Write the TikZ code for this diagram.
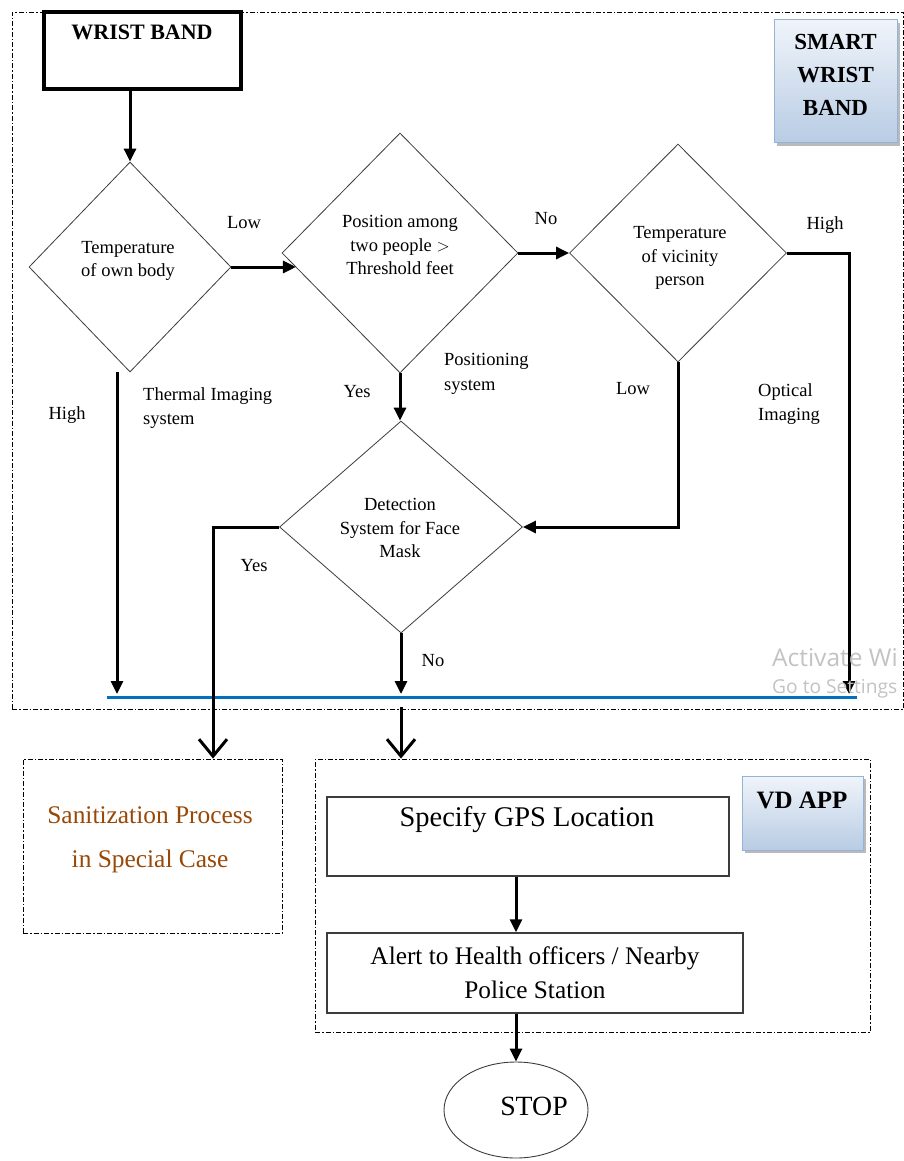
\documentclass[tikz,border=0pt]{standalone}
\usepackage{fontspec}
\setmainfont{Liberation Serif}
\newfontfamily\wmfont{Open Sans}
\usetikzlibrary{shapes.geometric,arrows.meta,shadows}
\definecolor{busblue}{RGB}{0,112,192}
\definecolor{sanbrown}{RGB}{152,72,7}
\definecolor{boxblue}{RGB}{184,204,228}
\definecolor{boxtop}{RGB}{240,244,250}
\definecolor{boxedge}{RGB}{149,179,215}
\definecolor{wmgray}{RGB}{195,195,195}
\definecolor{dgray}{RGB}{60,60,60}
\tikzset{
  dec/.style={diamond, draw=dgray, line width=0.8pt, inner sep=0pt},
  dtxt/.style={align=center, inner sep=0pt, font=\fontsize{18.5}{23.5}\selectfont},
  lbl/.style={align=left, inner sep=0pt, font=\fontsize{18.5}{24.5}\selectfont},
  conn/.style={line width=3pt, -{Triangle[length=13pt,width=12pt]}},
  openarr/.style={line width=3pt, -{Straight Barb[length=17pt,width=28pt]}},
  dashdot/.style={draw=black, line width=0.9pt, dash pattern=on 5pt off 2pt on 1.5pt off 2pt},
  procbox/.style={draw=dgray, line width=1.5pt, inner sep=0pt},
  bluebox/.style={draw=boxedge, line width=1pt, top color=boxtop, bottom color=boxblue,
    inner sep=0pt, drop shadow={shadow xshift=3pt, shadow yshift=-3pt, fill=black!45, opacity=0.6}},
}
\begin{document}
\begin{tikzpicture}[x=1pt,y=-1pt]
\useasboundingbox[fill=white] (0,0) rectangle (904,1161);

% outer region
\node[dashdot, minimum width=891pt, minimum height=697pt, inner sep=0pt] (outer) at (457.5,360.5) {};

% wrist band
\node[draw, line width=3.5pt, minimum width=197pt, minimum height=77pt, inner sep=0pt] (wb) at (142.5,50.5) {};
\node[inner sep=0pt, font=\fontsize{22}{26}\selectfont\bfseries] (wbt) at (142,32) {WRIST BAND};

% smart wrist band tag
\node[bluebox, minimum width=123pt, minimum height=123pt] (smart) at (835.5,81.5) {};
\node[align=center, inner sep=0pt, font=\fontsize{23}{33}\selectfont\bfseries] (smartt) at (835.5,75) {SMART\\WRIST\\BAND};

% decisions
\node[dec, minimum width=202pt, minimum height=210pt] (d1) at (130,267) {};
\node[dtxt] (d1t) at (128,261) {Temperature\\of own body};
\node[dec, minimum width=236pt, minimum height=240pt] (d2) at (400,253) {};
\node[dtxt] (d2t) at (400,245) {Position among\\two people $>$\\Threshold feet};
\node[dec, minimum width=217pt, minimum height=218pt] (d3) at (678,253) {};
\node[dtxt] (d3t) at (680,258) {Temperature\\of vicinity\\person};
\node[dec, minimum width=243pt, minimum height=212pt] (d4) at (401,527) {};
\node[dtxt] (d4t) at (400,528) {Detection\\System for Face\\Mask};

% coordinates
\coordinate (t1) at (117,694);
\coordinate (t3) at (849,694);
\coordinate (busL) at (107,697);
\coordinate (busR) at (857,697);
\coordinate (sanin) at (213,0);
\coordinate (s2) at (401,707);

% bus line
\draw[busblue, line width=3pt] (busL) -- (busR);

% lower boxes
\node[dashdot, minimum width=259pt, minimum height=174pt, inner sep=0pt] (san) at (152.5,846) {};
\node[align=center, inner sep=0pt, text=sanbrown, font=\fontsize{25.4}{44}\selectfont] (sant) at (150,840) {Sanitization Process\\in Special Case};
\node[dashdot, minimum width=555pt, minimum height=273pt, inner sep=0pt] (vd) at (592.5,895.5) {};
\node[bluebox, minimum width=121pt, minimum height=74pt] (vdtag) at (802.5,813) {};
\node[inner sep=0pt, font=\fontsize{25}{30}\selectfont\bfseries] (vdtagt) at (802,800) {VD APP};
\node[procbox, minimum width=402pt, minimum height=79pt] (spec) at (528,836.5) {};
\node[inner sep=0pt, font=\fontsize{28.5}{34}\selectfont] (spect) at (527,820) {Specify GPS Location};
\node[procbox, minimum width=416pt, minimum height=80pt, align=center, font=\fontsize{25.3}{34}\selectfont] (alert) at (535,973) {Alert to Health officers / Nearby\\Police Station};
\node[ellipse, draw=dgray, line width=0.9pt, minimum width=144pt, minimum height=96pt, inner sep=0pt] (stop) at (516,1110) {};
\node[inner sep=0pt, font=\fontsize{27.8}{32}\selectfont] (stopt) at (534,1106) {STOP};

% connectors
\draw[conn] (wb.south -| d1.north) -- (d1.north);
\draw[conn] (d1.east) -- (d1.east -| d2.188);
\draw[conn] (d2.east) -- (d3.west);
\draw[conn] (d2.south) -- (d2.south |- d4.north);
\draw[conn] (d3.east) -| (t3);
\draw[conn] (d3.south) |- (d4.east);
\draw[conn] (t1 |- d1.south) -- (t1);
\draw[conn] (d4.south) -- (d4.south |- t1);
\draw[openarr] (d4.west) -| (san.north -| sanin);
\draw[openarr] (s2) -- (s2 |- vd.north);
\draw[conn] (spec.south -| stop.north) -- (alert.north -| stop.north);
\draw[conn] (alert.south -| stop.north) -- (stop.north);

% labels
\node[lbl] (low1) at (244,223) {Low};
\node[lbl] (high1) at (67,415) {High};
\node[lbl, anchor=west] (therm) at (143,408) {Thermal Imaging\\system};
\node[lbl] (yes1) at (357,392) {Yes};
\node[lbl, anchor=west] (posi) at (444,374) {Positioning\\system};
\node[lbl] (no1) at (546,219) {No};
\node[lbl] (high2) at (825,225) {High};
\node[lbl] (low2) at (633,389) {Low};
\node[lbl, anchor=west] (opt) at (758,404) {Optical\\Imaging};
\node[lbl] (yes2) at (254,566) {Yes};
\node[lbl] (no2) at (433,661) {No};

% watermark (as far as the reference shows it)
\node[anchor=west, inner sep=0pt, text=wmgray, font=\wmfont\fontsize{24.5}{28}\selectfont] (wm1) at (772,658) {Activate Wi};
\node[anchor=west, inner sep=0pt, text=wmgray, font=\wmfont\fontsize{19.2}{22}\selectfont] (wm2) at (772,689) {Go to Settings};
\end{tikzpicture}
\end{document}
